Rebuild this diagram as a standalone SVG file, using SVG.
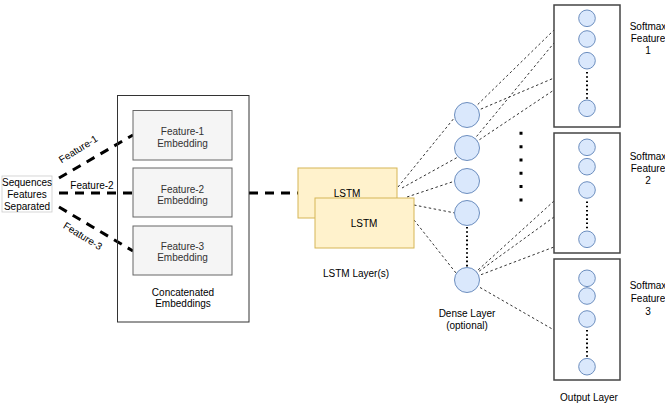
<svg xmlns="http://www.w3.org/2000/svg" width="665" height="406" viewBox="0 0 665 406">
<style>
text{font-family:"Liberation Sans",Arial,Helvetica,sans-serif;font-size:10px;fill:#000;text-anchor:middle}
.ft{fill:#333}
.thick{stroke:#000;stroke-width:3;stroke-dasharray:9 7;fill:none}
.thin{stroke:#333;stroke-width:1;stroke-dasharray:2.5 2.5;fill:none}
.dots{stroke:#000;stroke-width:2;stroke-dasharray:1.6 2.6;fill:none}
.feat{fill:#f5f5f5;stroke:#666;stroke-width:1}
.lstm{fill:#fff2cc;stroke:#d6b656;stroke-width:1}
.neu{fill:#dae8fc;stroke:#6c8ebf;stroke-width:1}
.obox{fill:#fff;stroke:#444;stroke-width:1.5}
</style>
<rect width="665" height="406" fill="#fff"/>
<g id="connectors">
<line class="thick" x1="59" y1="178" x2="133" y2="135"/>
<line class="thick" x1="59" y1="193" x2="133" y2="193"/>
<line class="thick" x1="59" y1="207" x2="133" y2="251"/>
<line class="thick" x1="249" y1="193" x2="298" y2="193"/>
<line class="thin" x1="398" y1="187" x2="455" y2="117"/>
<line class="thin" x1="402" y1="188" x2="458" y2="157"/>
<line class="thin" x1="407" y1="197" x2="455" y2="181"/>
<line class="thin" x1="414" y1="205" x2="455" y2="213"/>
<line class="thin" x1="414" y1="220" x2="456" y2="273"/>
<line class="thin" x1="467" y1="115" x2="554" y2="30"/>
<line class="thin" x1="467" y1="115" x2="554" y2="78"/>
<line class="thin" x1="467" y1="148" x2="554" y2="43"/>
<line class="thin" x1="467" y1="148" x2="554" y2="90"/>
<line class="thin" x1="467" y1="280" x2="554" y2="201"/>
<line class="thin" x1="467" y1="280" x2="554" y2="217"/>
<line class="thin" x1="467" y1="280" x2="554" y2="247"/>
<line class="thin" x1="467" y1="280" x2="554" y2="330"/>
<text transform="translate(80,152) rotate(-32)">Feature-1</text>
<text x="92" y="188.5">Feature-2</text>
<text transform="translate(81,239) rotate(32)">Feature-3</text>
</g>
<g id="input">
<rect x="2" y="176" width="50" height="36" fill="#fff" stroke="#ccc" stroke-width="0.8"/>
<text x="27" y="185.5">Sequences</text>
<text x="27" y="197.5">Features</text>
<text x="27" y="209.5">Separated</text>
</g>
<g id="concat">
<rect x="117.5" y="95.5" width="131.5" height="226.5" fill="none" stroke="#333" stroke-width="1"/>
<text x="183" y="295.8">Concatenated</text>
<text x="183" y="307.3">Embeddings</text>
</g>
<g id="feature1">
<rect class="feat" x="133" y="110.5" width="99" height="49.5"/>
<text class="ft" x="182.5" y="135">Feature-1</text>
<text class="ft" x="182.5" y="146.5">Embedding</text>
</g>
<g id="feature2">
<rect class="feat" x="133" y="168" width="99" height="49"/>
<text class="ft" x="182.5" y="192.5">Feature-2</text>
<text class="ft" x="182.5" y="204">Embedding</text>
</g>
<g id="feature3">
<rect class="feat" x="133" y="226" width="99" height="49"/>
<text class="ft" x="182.5" y="249.5">Feature-3</text>
<text class="ft" x="182.5" y="261">Embedding</text>
</g>
<g id="lstm1">
<rect class="lstm" x="298" y="168" width="99" height="50"/>
<text x="347" y="196.5">LSTM</text>
</g>
<g id="lstm2">
<rect class="lstm" x="315" y="198" width="99" height="50"/>
<text x="364" y="226.5">LSTM</text>
</g>
<g id="lstm-label"><text x="356" y="276.5">LSTM Layer(s)</text></g>
<g id="dense">
<circle class="neu" cx="467" cy="115" r="12.5"/>
<circle class="neu" cx="467" cy="148" r="12.5"/>
<circle class="neu" cx="467" cy="181" r="12.5"/>
<circle class="neu" cx="467" cy="213" r="12.5"/>
<line class="dots" x1="467" y1="227" x2="467" y2="267"/>
<circle class="neu" cx="467" cy="280" r="12.5"/>
<text x="467" y="316.5">Dense Layer</text>
<text x="467" y="328.5">(optional)</text>
</g>
<g id="ellipsis">
<line x1="521" y1="131.8" x2="521" y2="201.5" stroke="#000" stroke-width="3" stroke-dasharray="3 10.33"/>
</g>
<g id="output1">
<rect class="obox" x="554" y="5" width="66" height="122"/>
<circle class="neu" cx="587" cy="18.3" r="8.3"/>
<circle class="neu" cx="587" cy="39" r="8.3"/>
<circle class="neu" cx="587" cy="60.7" r="8.3"/>
<line class="dots" x1="587" y1="72" x2="587" y2="100"/>
<circle class="neu" cx="587" cy="108.3" r="8.3"/>
<text x="648" y="29.5">Softmax</text>
<text x="648" y="41.5">Feature</text>
<text x="648" y="54">1</text>
</g>
<g id="output2">
<rect class="obox" x="554" y="133" width="66" height="120"/>
<circle class="neu" cx="587" cy="147.3" r="8.3"/>
<circle class="neu" cx="587" cy="166.7" r="8.3"/>
<circle class="neu" cx="587" cy="190" r="8.3"/>
<line class="dots" x1="587" y1="201.5" x2="587" y2="230.5"/>
<circle class="neu" cx="587" cy="239.3" r="8.3"/>
<text x="648" y="159.5">Softmax</text>
<text x="648" y="171.8">Feature</text>
<text x="648" y="184.2">2</text>
</g>
<g id="output3">
<rect class="obox" x="554" y="259" width="66" height="121"/>
<circle class="neu" cx="587" cy="278.3" r="8.3"/>
<circle class="neu" cx="587" cy="296" r="8.3"/>
<circle class="neu" cx="587" cy="319" r="8.3"/>
<line class="dots" x1="587" y1="330" x2="587" y2="358.5"/>
<circle class="neu" cx="587" cy="366.7" r="8.3"/>
<text x="648" y="288.5">Softmax</text>
<text x="648" y="301.5">Feature</text>
<text x="648" y="315">3</text>
</g>
<g id="output-label"><text x="589" y="400.5">Output Layer</text></g>
</svg>
